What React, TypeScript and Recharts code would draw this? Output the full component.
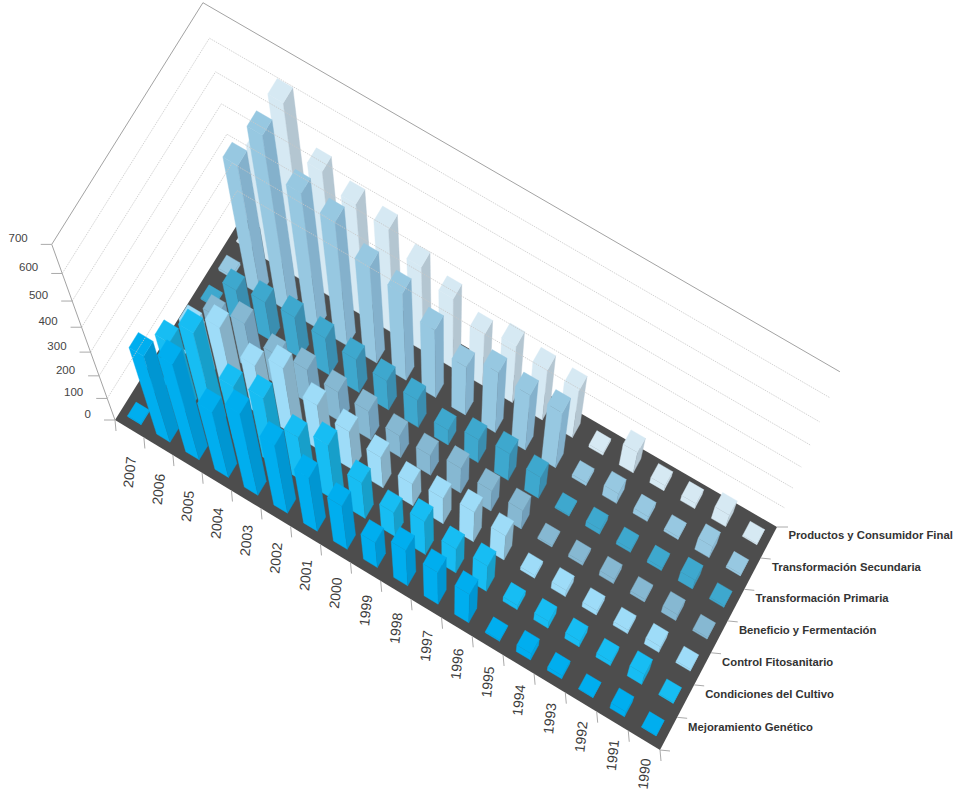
import React from "react";
import { ScatterChart, Scatter, XAxis, YAxis, ReferenceArea } from "recharts";

// Bar values by production-chain link, ordered 2007 down to 1990.
const years = [2007, 2006, 2005, 2004, 2003, 2002, 2001, 2000, 1999, 1998, 1997, 1996, 1995, 1994, 1993, 1992, 1991, 1990];
const seriesNames = [
  "Mejoramiento Genético",
  "Condiciones del Cultivo",
  "Control Fitosanitario",
  "Beneficio y Fermentación",
  "Transformación Primaria",
  "Transformación Secundaria",
  "Productos y Consumidor Final",
];
const mejoramiento = [4, 381, 428, 308, 384, 331, 269, 225, 135, 195, 180, 165, 8, 40, 20, 4, 35, 4];
const condiciones = [5, 303, 419, 277, 309, 218, 269, 180, 125, 175, 130, 140, 25, 40, 35, 25, 65, 6];
const control = [5, 238, 311, 231, 299, 219, 184, 150, 110, 130, 155, 130, 15, 35, 25, 20, 35, 10];
const beneficio = [5, 156, 200, 141, 157, 139, 133, 104, 97, 123, 102, 95, 8, 15, 25, 15, 35, 10];
const primaria = [5, 139, 162, 173, 160, 146, 132, 126, 70, 109, 130, 105, 6, 25, 15, 15, 50, 10];
const secundaria = [10, 481, 640, 516, 484, 392, 362, 291, 214, 269, 253, 258, 14, 50, 25, 12, 60, 10];
const productos = [5, 415, 636, 480, 433, 410, 341, 290, 219, 248, 224, 215, 12, 100, 25, 25, 60, 5];
const seriesValues = [mejoramiento, condiciones, control, beneficio, primaria, secundaria, productos];
const valueTicks = [0, 100, 200, 300, 400, 500, 600, 700];

// Face colours per series: left/top face, right (shaded) face.
const faceColors = [
  ["#00aeef", "#0096d2"],
  ["#17bdf3", "#179fca"],
  ["#9edcf8", "#86b0c6"],
  ["#86b8d2", "#729fba"],
  ["#3ea8ce", "#3a8eb0"],
  ["#97c8e1", "#84b1cc"],
  ["#d6e9f3", "#b4c6d1"],
];

const WIDTH = 957;
const HEIGHT = 792;
// Plot rectangle left over once the one-pixel axis strips are taken out.
const PLOT_X = 1;
const PLOT_W = 955;
const PLOT_H = 791;
type Pt = [number, number];

// Floor quadrilateral on screen: front-left, front-right, back-right, back-left.
const Q: Pt[] = [[115, 420], [660, 750], [777, 527], [242, 217]];
const VANISH: Pt = [447, 1342];
const DEPTH = 0.16 / 700;
const BAR_FRACTION = 0.46;

// Unit square to quadrilateral homography.
function makeFloor() {
  const [p0, p1, p2, p3] = Q;
  const sx = p0[0] - p1[0] + p2[0] - p3[0];
  const sy = p0[1] - p1[1] + p2[1] - p3[1];
  const dx1 = p1[0] - p2[0];
  const dx2 = p3[0] - p2[0];
  const dy1 = p1[1] - p2[1];
  const dy2 = p3[1] - p2[1];
  const det = dx1 * dy2 - dx2 * dy1;
  const g = (sx * dy2 - dx2 * sy) / det;
  const h = (dx1 * sy - sx * dy1) / det;
  return (u: number, w: number): Pt => {
    const d = g * u + h * w + 1;
    return [
      ((p1[0] - p0[0] + g * p1[0]) * u + (p3[0] - p0[0] + h * p3[0]) * w + p0[0]) / d,
      ((p1[1] - p0[1] + g * p1[1]) * u + (p3[1] - p0[1] + h * p3[1]) * w + p0[1]) / d,
    ];
  };
}
const floorAt = makeFloor();

// Plot-area pixel plus a value height to screen position.
function project(px: number, py: number, value = 0): Pt {
  const [fx, fy] = floorAt((px - PLOT_X) / PLOT_W, 1 - py / PLOT_H);
  const s = 1 / (1 - DEPTH * value);
  return [VANISH[0] + (fx - VANISH[0]) * s, VANISH[1] + (fy - VANISH[1]) * s];
}
const toPoints = (pts: Pt[]) => pts.map((p) => `${p[0].toFixed(2)},${p[1].toFixed(2)}`).join(" ");

// Short bars have almost no visible shading on their side face.
function mixColor(a: string, b: string, t: number) {
  const ch = (c: string, i: number) => parseInt(c.slice(1 + i * 2, 3 + i * 2), 16);
  const out = [0, 1, 2].map((i) => Math.round(ch(a, i) + (ch(b, i) - ch(a, i)) * t));
  return `rgb(${out.join(",")})`;
}

const cellW = PLOT_W / years.length;
const cellH = PLOT_H / seriesNames.length;

function Prism(props: any) {
  const { cx, cy, payload } = props;
  const [light, dark] = faceColors[payload.row];
  const shade = mixColor(light, dark, Math.min(1, payload.value / 90));
  const hw = (cellW * BAR_FRACTION) / 2;
  const hh = (cellH * BAR_FRACTION) / 2;
  const v = payload.value;
  // Corner names: l/r along the years, f/b along the series.
  const lf = (z: number) => project(cx - hw, cy + hh, z);
  const rf = (z: number) => project(cx + hw, cy + hh, z);
  const rb = (z: number) => project(cx + hw, cy - hh, z);
  const lb = (z: number) => project(cx - hw, cy - hh, z);
  return (
    <g>
      <polygon points={toPoints([lf(0), rf(0), rf(v), lf(v)])} fill={light} stroke={light} strokeWidth={0.4} />
      <polygon points={toPoints([rf(0), rb(0), rb(v), rf(v)])} fill={shade} stroke={shade} strokeWidth={0.4} />
      <polygon points={toPoints([lf(v), rf(v), rb(v), lb(v)])} fill={light} stroke={light} strokeWidth={0.4} />
    </g>
  );
}

function YearTick(props: any) {
  const year = props.payload.value;
  const { x } = props;
  const edge = project(x + cellW / 2, PLOT_H);
  const prevEdge = project(x - cellW / 2, PLOT_H);
  const mid = project(x, PLOT_H);
  const drop = 44 - (10 * years.indexOf(year)) / (years.length - 1);
  return (
    <g>
      <line x1={edge[0]} y1={edge[1]} x2={edge[0] + 1} y2={edge[1] + 11} stroke="#aaa" strokeWidth={1} />
      {year === years[0] && (
        <line x1={prevEdge[0]} y1={prevEdge[1]} x2={prevEdge[0] + 1} y2={prevEdge[1] + 11} stroke="#aaa" strokeWidth={1} />
      )}
      <text
        transform={`translate(${mid[0] + 5},${mid[1] + drop}) rotate(-84)`}
        textAnchor="middle"
        fontFamily="Liberation Sans"
        fontSize={14}
        fill="#3c3c3c"
      >
        {year}
      </text>
    </g>
  );
}

function SeriesTick(props: any) {
  const row = props.payload.value;
  const { y } = props;
  const edge = project(PLOT_X + PLOT_W, y + cellH / 2);
  const top = project(PLOT_X + PLOT_W, y - cellH / 2);
  const mid = project(PLOT_X + PLOT_W, y);
  return (
    <g>
      <line x1={edge[0]} y1={edge[1]} x2={edge[0] + 10} y2={edge[1] + 1} stroke="#aaa" strokeWidth={1} />
      {row === seriesNames.length - 1 && (
        <line x1={top[0]} y1={top[1]} x2={top[0] + 11} y2={top[1]} stroke="#aaa" strokeWidth={1} />
      )}
      <text
        x={mid[0] + 19.5}
        y={mid[1] - 3}
        fontFamily="Liberation Sans"
        fontWeight={700}
        fontSize={11.3}
        fill="#333"
      >
        {seriesNames[row]}
      </text>
    </g>
  );
}

// Each value tick carries its wall gridline, running along the left and back walls.
function ValueTick(props: any) {
  const value = props.payload.value;
  const a = project(PLOT_X, PLOT_H, value);
  const d = project(PLOT_X, 0, value);
  const c = project(PLOT_X + PLOT_W, 0, value);
  const isTop = value === valueTicks[valueTicks.length - 1];
  return (
    <g>
      {value > 0 && (
        <polyline
          points={toPoints([a, d, c])}
          fill="none"
          stroke={isTop ? "#a3a3a3" : "#c8c8c8"}
          strokeWidth={isTop ? 1 : 0.8}
          strokeDasharray={isTop ? undefined : "1.5 1"}
        />
      )}
      {isTop && (
        <polyline
          points={toPoints(valueTicks.map((t) => project(PLOT_X, PLOT_H, t)))}
          fill="none"
          stroke="#a3a3a3"
          strokeWidth={1}
        />
      )}
      <line x1={a[0] - 11} y1={a[1]} x2={a[0]} y2={a[1]} stroke="#aaa" strokeWidth={1} />
      <text
        x={a[0] - 24}
        y={a[1] - 2}
        textAnchor="end"
        fontFamily="Liberation Sans"
        fontSize={11.5}
        fill="#444"
      >
        {value}
      </text>
    </g>
  );
}

function FloorShape(props: any) {
  const { x, y, width, height } = props;
  const pts = [
    project(x, y + height),
    project(x + width, y + height),
    project(x + width, y),
    project(x, y),
  ];
  return <polygon points={toPoints(pts)} fill="#4d4d4d" />;
}

const NoMark = () => null;

const rowData = (row: number) =>
  years.map((year, i) => ({ year, row, value: seriesValues[row][i] }));
const drawOrder = [6, 5, 4, 3, 2, 1, 0];
const valueScaleData = valueTicks.map((value) => ({ year: years[0], value }));

export default function App() {
  return (
    <div style={{ position: "absolute", left: 0, top: 0, width: WIDTH, height: HEIGHT, background: "#fff" }}>
      <ScatterChart width={WIDTH} height={HEIGHT} margin={{ top: 0, right: 0, bottom: 0, left: 0 }}>
        <XAxis
          type="number"
          dataKey="year"
          domain={[1989.5, 2007.5]}
          reversed
          ticks={years}
          interval={0}
          height={1}
          axisLine={false}
          tickLine={false}
          tick={<YearTick />}
          allowDataOverflow
        />
        <YAxis
          type="number"
          dataKey="row"
          domain={[-0.5, 6.5]}
          ticks={seriesNames.map((_, i) => i)}
          interval={0}
          width={1}
          axisLine={false}
          tickLine={false}
          tick={<SeriesTick />}
          allowDataOverflow
        />
        <YAxis
          yAxisId="value"
          type="number"
          dataKey="value"
          orientation="right"
          domain={[0, 700]}
          ticks={valueTicks}
          interval={0}
          width={1}
          axisLine={false}
          tickLine={false}
          tick={<ValueTick />}
        />
        <ReferenceArea x1={1989.5} x2={2007.5} y1={-0.5} y2={6.5} shape={<FloorShape />} />
        <Scatter yAxisId="value" data={valueScaleData} shape={<NoMark />} isAnimationActive={false} />
        {drawOrder.map((row) => (
          <Scatter
            key={row}
            name={seriesNames[row]}
            data={rowData(row)}
            shape={<Prism />}
            isAnimationActive={false}
          />
        ))}
      </ScatterChart>
    </div>
  );
}
